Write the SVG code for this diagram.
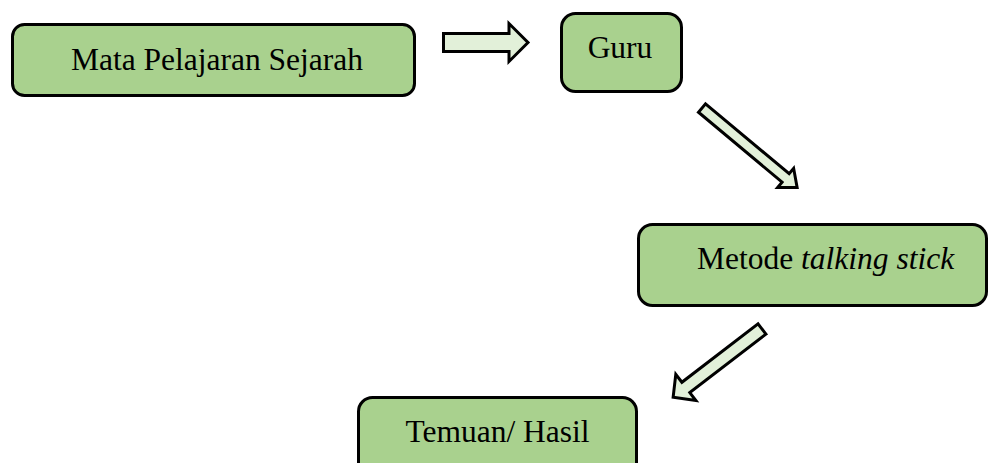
<svg xmlns="http://www.w3.org/2000/svg" width="989" height="463" viewBox="0 0 989 463">
<style>
.box{fill:#A9D18E;stroke:#000;stroke-width:3}
.arr{fill:#E2F0D9;stroke:#000;stroke-width:3;stroke-linejoin:miter}
.t{font-family:"Liberation Serif","Times New Roman",serif;font-size:31.5px;fill:#000}
</style>
<rect width="989" height="463" fill="#fff"/>
<g id="node-mata">
<rect class="box" x="12.5" y="24.5" width="402" height="71" rx="12"/>
<text class="t" x="217" y="70" text-anchor="middle">Mata Pelajaran Sejarah</text>
</g>
<g id="node-guru">
<rect class="box" x="561.5" y="13.5" width="120" height="78" rx="14"/>
<text class="t" x="620" y="58.3" text-anchor="middle">Guru</text>
</g>
<g id="node-metode">
<rect class="box" x="638.5" y="224.5" width="348" height="81" rx="14"/>
<text class="t" x="697" y="269">Metode <tspan font-style="italic">talking stick</tspan></text>
</g>
<g id="node-temuan">
<rect class="box" x="358.5" y="397.5" width="278" height="80" rx="14"/>
<text class="t" x="497.5" y="441.7" text-anchor="middle">Temuan/ Hasil</text>
</g>
<g id="connectors">
<polygon class="arr" points="443.5,33.5 509,33.5 509,23.5 528,42.5 509,61.5 509,51.5 443.5,51.5"/>
<polygon class="arr" transform="translate(702,108) rotate(39.9)" points="0,-5.5 109,-5.5 109,-12.5 124,0 109,12.5 109,5.5 0,5.5"/>
<polygon class="arr" transform="translate(762,329) rotate(142.5)" points="0,-6.5 96,-6.5 96,-16.5 112,0 96,16.5 96,6.5 0,6.5"/>
</g>
</svg>
